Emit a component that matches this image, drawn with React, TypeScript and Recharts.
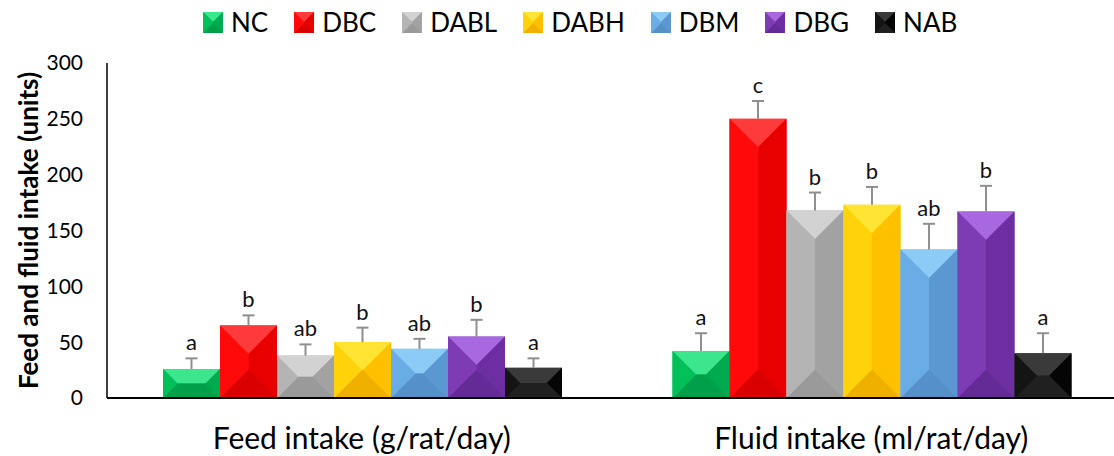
import React from "react";
import { Bar, BarChart, Legend, XAxis, YAxis } from "recharts";

const categories = ["Feed intake (g/rat/day)", "Fluid intake (ml/rat/day)"];
const groups = ["NC", "DBC", "DABL", "DABH", "DBM", "DBG", "NAB"];

const feedMeans = [26, 65, 38, 50, 44, 55, 27];
const feedErrors = [9.5, 9, 10, 13, 9, 15, 8.5];
const feedLetters = ["a", "b", "ab", "b", "ab", "b", "a"];

const fluidMeans = [42, 250, 168, 173, 133, 167, 40];
const fluidErrors = [16, 16, 16, 16, 23, 23, 18];
const fluidLetters = ["a", "c", "b", "b", "ab", "b", "a"];

const yTicks = [0, 50, 100, 150, 200, 250, 300];

// bevel faces: top, left, right, bottom
const faces: Record<string, string[]> = {
  NC: ["#3be68d", "#00c05a", "#00ab50", "#00a04a"],
  DBC: ["#ff3a3a", "#ff0a0a", "#e80000", "#d80000"],
  DABL: ["#d2d2d2", "#b4b4b4", "#a2a2a2", "#9a9a9a"],
  DABH: ["#ffe433", "#ffd20a", "#ffc000", "#f0b000"],
  DBM: ["#8ccbf5", "#6aade6", "#5b98d2", "#5590c8"],
  DBG: ["#a868e0", "#7e3cb4", "#6d2ea2", "#642a96"],
  NAB: ["#3a3a3a", "#141414", "#050505", "#202020"],
};

const FONT = "Lato, 'Noto Sans', sans-serif";

const rows = categories.map((name, c) => {
  const means = c === 0 ? feedMeans : fluidMeans;
  const errs = c === 0 ? feedErrors : fluidErrors;
  const letters = c === 0 ? feedLetters : fluidLetters;
  const row: Record<string, any> = { name };
  groups.forEach((g, i) => {
    row[g] = means[i];
    row[g + "_err"] = errs[i];
    row[g + "_sig"] = letters[i];
  });
  return row;
});

function Bevel({ x, y, w, h, f }: { x: number; y: number; w: number; h: number; f: string[] }) {
  const d = Math.min(w, h) / 2;
  const pts = (a: number[][]) => a.map((p) => p.join(",")).join(" ");
  return (
    <g>
      <rect x={x} y={y} width={w} height={h} fill={f[1]} />
      <polygon points={pts([[x, y], [x + w, y], [x + w - d, y + d], [x + d, y + d]])} fill={f[0]} />
      <polygon points={pts([[x + w, y], [x + w - d, y + d], [x + w - d, y + h - d], [x + w, y + h]])} fill={f[2]} />
      <polygon points={pts([[x, y + h], [x + w, y + h], [x + w - d, y + h - d], [x + d, y + h - d]])} fill={f[3]} />
      <polygon points={pts([[x, y], [x + d, y + d], [x + d, y + h - d], [x, y + h]])} fill={f[1]} />
    </g>
  );
}

const makeShape = (key: string) => (props: any) => {
  const { x, y, width, height, payload } = props;
  const value = payload[key];
  const err = payload[key + "_err"];
  const ppu = value ? height / value : 0;
  const cx = x + width / 2;
  const capY = y - err * ppu;
  return (
    <g>
      <Bevel x={x} y={y} w={width} h={height} f={faces[key]} />
      <line x1={cx} x2={cx} y1={y} y2={capY} stroke="#8f8f8f" strokeWidth={2} />
      <line x1={cx - 6} x2={cx + 6} y1={capY} y2={capY} stroke="#8f8f8f" strokeWidth={2} />
      <text x={cx} y={capY - 8} textAnchor="middle" fontSize={22} fontFamily={FONT} fill="#111">
        {payload[key + "_sig"]}
      </text>
    </g>
  );
};

function LegendContent() {
  return (
    <div style={{ display: "flex", alignItems: "center", fontFamily: FONT, fontSize: 26, lineHeight: "32px" }}>
      {groups.map((g) => (
        <div key={g} style={{ display: "flex", alignItems: "center", marginRight: 26 }}>
          <svg width={20} height={21} style={{ marginRight: 8 }}>
            <Bevel x={0} y={0} w={20} h={21} f={faces[g]} />
          </svg>
          <span style={{ color: "#000" }}>{g}</span>
        </div>
      ))}
    </div>
  );
}

function XTick(props: any) {
  const { x, y, payload } = props;
  return (
    <text x={x} y={y} dy={49} textAnchor="middle" fontSize={30} fontFamily={FONT} fill="#000">
      {payload.value}
    </text>
  );
}

export default function App() {
  return (
    <div
      style={{
        position: "fixed",
        left: 0,
        top: 0,
        width: 1114,
        height: 456,
        overflow: "hidden",
        background: "#fff",
      }}
    >
      <BarChart
        width={1130}
        height={456}
        data={rows}
        margin={{ top: 63, right: 4, left: 0, bottom: 0 }}
        barCategoryGap={56}
        barGap={0}
      >
        <XAxis
          dataKey="name"
          height={58}
          axisLine={{ stroke: "#000", strokeWidth: 2 }}
          tickLine={false}
          tickSize={0}
          tick={<XTick />}
        />
        <YAxis
          width={107}
          domain={[0, 300]}
          ticks={yTicks}
          interval={0}
          axisLine={{ stroke: "#000", strokeWidth: 1.5 }}
          tickLine={false}
          tickSize={0}
          tickMargin={24}
          tick={{ fill: "#000", fontSize: 21, fontFamily: FONT }}
          label={{
            value: "Feed and fluid intake (units)",
            angle: -90,
            position: "insideLeft",
            offset: 29,
            textAnchor: "middle",
            style: { fontFamily: FONT, fontSize: 26, fontWeight: 700, fill: "#000", textAnchor: "middle" },
          }}
        />
        <Legend
          verticalAlign="middle"
          align="center"
          content={<LegendContent />}
          wrapperStyle={{ top: 6, left: 203, width: "auto" }}
        />
        {groups.map((g) => (
          <Bar key={g} dataKey={g} shape={makeShape(g)} isAnimationActive={false} />
        ))}
      </BarChart>
    </div>
  );
}
